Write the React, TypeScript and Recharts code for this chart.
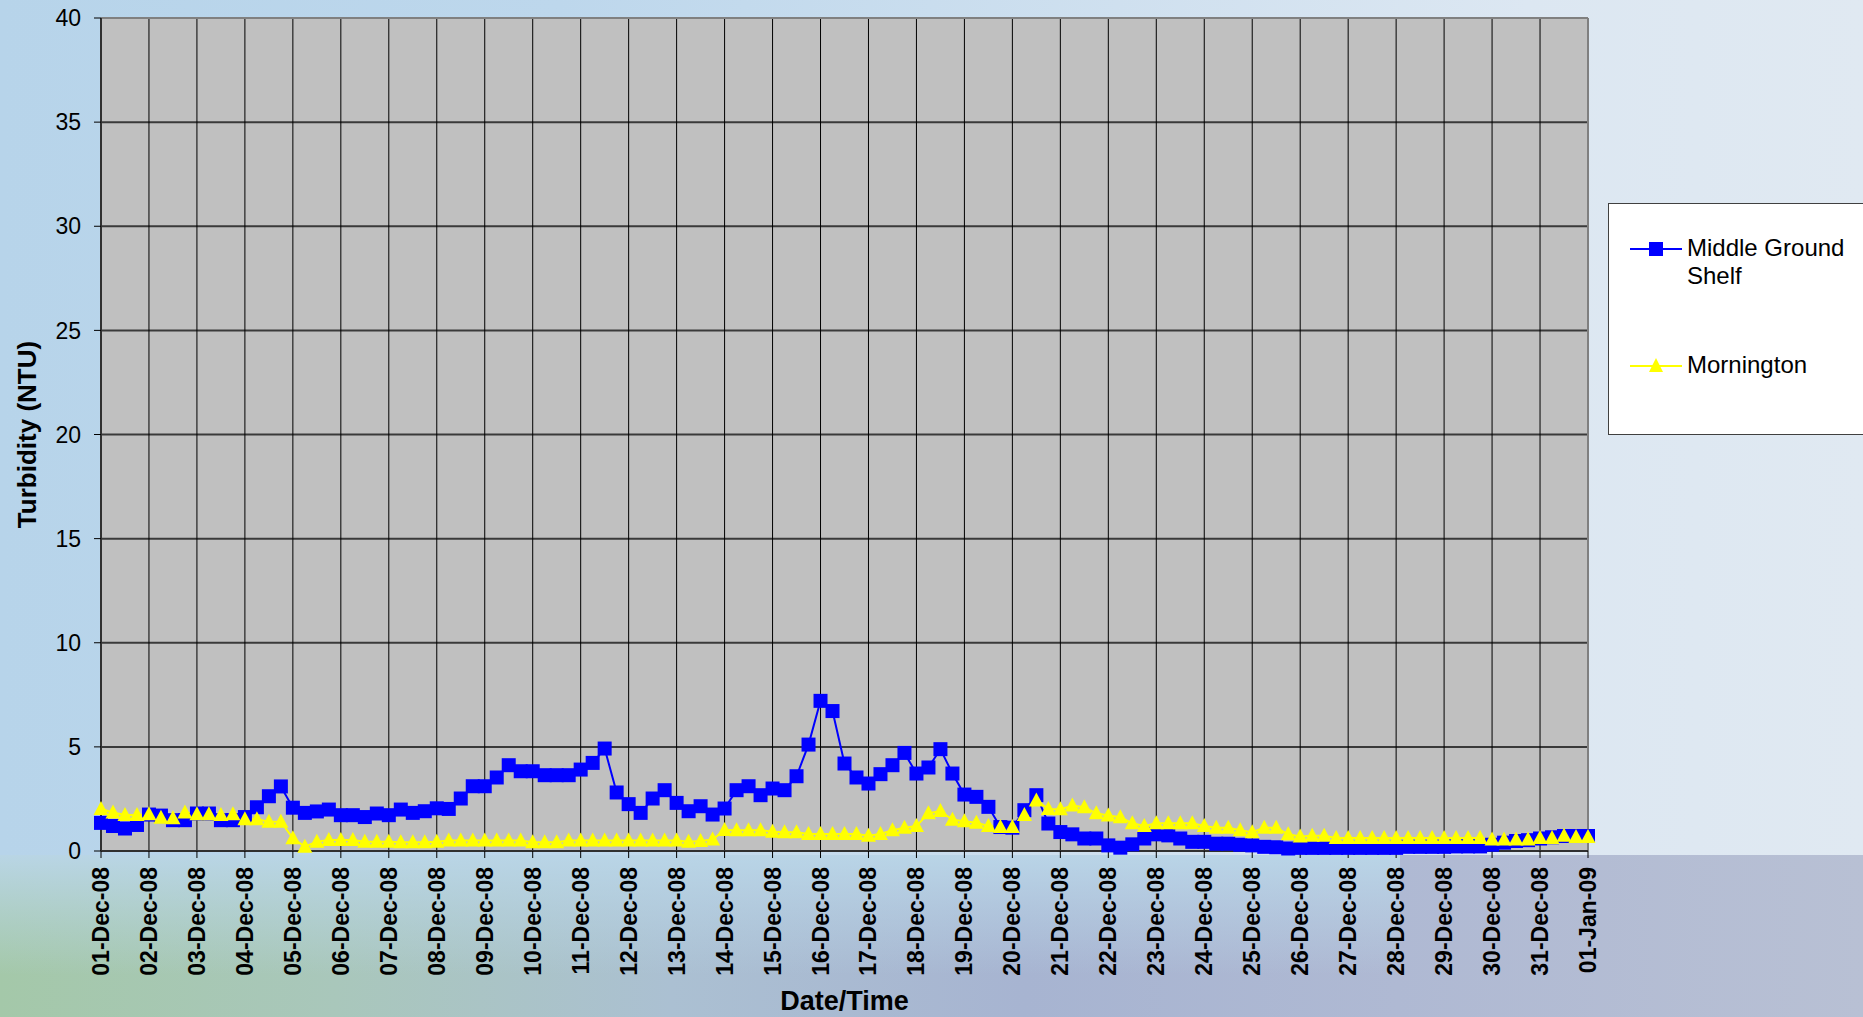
import React from 'react'
import { LineChart, Line, XAxis, YAxis, CartesianGrid, ReferenceLine } from 'recharts'

const FONT = 'Arial, "Liberation Sans", sans-serif'

// one label per day, readings every 6 hours (4 per day)
const dayLabels = [
  '01-Dec-08', '02-Dec-08', '03-Dec-08', '04-Dec-08', '05-Dec-08', '06-Dec-08', '07-Dec-08', '08-Dec-08',
  '09-Dec-08', '10-Dec-08', '11-Dec-08', '12-Dec-08', '13-Dec-08', '14-Dec-08', '15-Dec-08', '16-Dec-08',
  '17-Dec-08', '18-Dec-08', '19-Dec-08', '20-Dec-08', '21-Dec-08', '22-Dec-08', '23-Dec-08', '24-Dec-08',
  '25-Dec-08', '26-Dec-08', '27-Dec-08', '28-Dec-08', '29-Dec-08', '30-Dec-08', '31-Dec-08', '01-Jan-09',
]

const middleGroundShelf = [
  1.35, 1.2, 1.08, 1.25, 1.75, 1.7, 1.48, 1.48, 1.8, 1.8, 1.48, 1.48, 1.63, 2.1, 2.63, 3.1,
  2.08, 1.83, 1.9, 1.99, 1.72, 1.72, 1.63, 1.8, 1.72, 1.99, 1.83, 1.91, 2.05, 2.02, 2.52, 3.11,
  3.11, 3.53, 4.12, 3.83, 3.83, 3.64, 3.64, 3.64, 3.91, 4.23, 4.92, 2.81, 2.25, 1.83, 2.52, 2.92,
  2.31, 1.91, 2.15, 1.75, 2.04, 2.92, 3.11, 2.68, 3.0, 2.92, 3.59, 5.11, 7.21, 6.72, 4.2, 3.53,
  3.24, 3.69, 4.12, 4.71, 3.72, 4.01, 4.89, 3.72, 2.71, 2.6, 2.12, 1.15, 1.12, 1.96, 2.68, 1.32,
  0.91, 0.8, 0.6, 0.6, 0.27, 0.16, 0.32, 0.6, 0.8, 0.75, 0.6, 0.44, 0.44, 0.35, 0.35, 0.3,
  0.27, 0.2, 0.18, 0.12, 0.15, 0.15, 0.15, 0.15, 0.15, 0.15, 0.15, 0.15, 0.15, 0.2, 0.2, 0.2,
  0.2, 0.22, 0.22, 0.22, 0.3, 0.4, 0.48, 0.52, 0.6, 0.66, 0.72, 0.72, 0.72,
]

const mornington = [
  2.02, 1.85, 1.73, 1.73, 1.76, 1.6, 1.57, 1.85, 1.76, 1.76, 1.73, 1.76, 1.52, 1.52, 1.41, 1.41,
  0.61, 0.21, 0.45, 0.53, 0.53, 0.53, 0.45, 0.45, 0.45, 0.42, 0.42, 0.42, 0.45, 0.5, 0.5, 0.5,
  0.5, 0.5, 0.5, 0.5, 0.42, 0.42, 0.42, 0.5, 0.5, 0.5, 0.5, 0.5, 0.5, 0.5, 0.5, 0.5,
  0.5, 0.45, 0.48, 0.55, 1.01, 1.0, 1.0, 1.0, 0.93, 0.9, 0.9, 0.82, 0.82, 0.82, 0.82, 0.82,
  0.73, 0.82, 1.0, 1.12, 1.2, 1.81, 1.92, 1.5, 1.43, 1.36, 1.2, 1.15, 1.15, 1.73, 2.42, 2.02,
  2.0, 2.18, 2.1, 1.81, 1.7, 1.62, 1.33, 1.2, 1.33, 1.33, 1.33, 1.33, 1.2, 1.12, 1.12, 1.0,
  0.9, 1.12, 1.12, 0.8, 0.7, 0.73, 0.73, 0.62, 0.62, 0.62, 0.62, 0.62, 0.62, 0.62, 0.62, 0.62,
  0.62, 0.62, 0.62, 0.62, 0.55, 0.55, 0.55, 0.55, 0.62, 0.62, 0.73, 0.67, 0.67,
]

const yTicks = [0, 5, 10, 15, 20, 25, 30, 35, 40]
const xTicks = dayLabels.map((_, i) => i * 4)
const lastStep = (dayLabels.length - 1) * 4

const data = middleGroundShelf.map((v, i) => ({ step: i, mgs: v, morn: mornington[i] }))

const SquareDot = (props: any) => {
  const { cx, cy, index } = props
  if (cx == null || cy == null) return <g key={`s${index}`} />
  return <rect key={`s${index}`} x={cx - 7} y={cy - 7} width={14} height={14} fill="#0000ff" />
}

const TriangleDot = (props: any) => {
  const { cx, cy, index } = props
  if (cx == null || cy == null) return <g key={`t${index}`} />
  return (
    <polygon
      key={`t${index}`}
      points={`${cx},${cy - 8} ${cx + 7.5},${cy + 6} ${cx - 7.5},${cy + 6}`}
      fill="#ffff00"
    />
  )
}

const DateTick = ({ x, y, payload }: any) => (
  <text
    x={x}
    y={y}
    transform={`rotate(-90 ${x} ${y})`}
    textAnchor="end"
    dominantBaseline="central"
    fontFamily={FONT}
    fontSize={23}
    fontWeight={700}
    fill="#000"
  >
    {dayLabels[Math.round(payload.value / 4)]}
  </text>
)

const YTitle = ({ viewBox }: any) => {
  const cy = viewBox.y + viewBox.height / 2
  return (
    <text
      x={27}
      y={cy}
      transform={`rotate(-90 27 ${cy})`}
      textAnchor="middle"
      dominantBaseline="central"
      fontFamily={FONT}
      fontSize={26}
      fontWeight={700}
      fill="#000"
    >
      Turbidity (NTU)
    </text>
  )
}

const XTitle = ({ viewBox }: any) => (
  <text
    x={viewBox.x + viewBox.width / 2}
    y={1001}
    textAnchor="middle"
    dominantBaseline="central"
    fontFamily={FONT}
    fontSize={27}
    fontWeight={700}
    fill="#000"
  >
    Date/Time
  </text>
)

function LegendBox() {
  const text = { position: 'absolute' as const, left: 78, fontFamily: FONT, fontSize: 24, color: '#000', lineHeight: '28px' }
  return (
    <div
      style={{
        position: 'absolute',
        left: 1608,
        top: 203,
        width: 280,
        height: 232,
        background: '#fff',
        border: '1px solid #404040',
        boxSizing: 'border-box',
      }}
    >
      <svg style={{ position: 'absolute', left: 21, top: 33 }} width={52} height={24}>
        <line x1={0} y1={12} x2={52} y2={12} stroke="#0000ff" strokeWidth={2} />
        <rect x={19} y={5} width={14} height={14} fill="#0000ff" />
      </svg>
      <div style={{ ...text, top: 30 }}>
        Middle Ground
        <br />
        Shelf
      </div>
      <svg style={{ position: 'absolute', left: 21, top: 150 }} width={52} height={24}>
        <line x1={0} y1={12} x2={52} y2={12} stroke="#ffff00" strokeWidth={2} />
        <polygon points="26,4 33,18 19,18" fill="#ffff00" />
      </svg>
      <div style={{ ...text, top: 147 }}>Mornington</div>
    </div>
  )
}

export default function App() {
  return (
    <div
      style={{
        position: 'fixed',
        left: 0,
        top: 0,
        width: 1863,
        height: 1017,
        overflow: 'hidden',
        background: 'linear-gradient(90deg, #b7d4ea 0%, #bdd7ec 30%, #cfe0ef 60%, #dce7f2 82%, #e0e9f2 100%)',
      }}
    >
      {/* landscape strip behind the axis labels */}
      <div
        style={{
          position: 'absolute',
          left: 0,
          top: 855,
          width: 1863,
          height: 162,
          background:
            'linear-gradient(90deg, #a4c8a9 0%, #a9c7bb 18%, #abc0d2 36%, #a7b4d1 55%, #afb9d3 75%, #b8c0d4 100%)',
        }}
      />
      <div
        style={{
          position: 'absolute',
          left: 0,
          top: 855,
          width: 1400,
          height: 120,
          background: 'linear-gradient(180deg, rgba(186,214,232,0.95) 0%, rgba(186,214,232,0.5) 45%, rgba(186,214,232,0) 100%)',
        }}
      />
      <div style={{ position: 'absolute', left: 0, top: 0 }}>
        <LineChart
          width={1863}
          height={1017}
          data={data}
          margin={{ top: 18, right: 275, left: 0, bottom: 0 }}
        >
          <CartesianGrid
            horizontal
            vertical={false}
            stroke="#3a3a3a"
            strokeWidth={2}
            fill="#c0c0c0"
            fillOpacity={1}
          />
          <CartesianGrid horizontal={false} vertical stroke="#000" strokeWidth={1} />
          <ReferenceLine y={40} stroke="#808080" strokeWidth={2} />
          <ReferenceLine x={lastStep} stroke="#808080" strokeWidth={2} />
          <XAxis
            dataKey="step"
            type="number"
            domain={[0, lastStep]}
            ticks={xTicks}
            interval={0}
            height={166}
            tickSize={7}
            tickMargin={9}
            tick={<DateTick />}
            axisLine={{ stroke: '#303030', strokeWidth: 2 }}
            tickLine={{ stroke: '#000' }}
            label={<XTitle />}
          />
          <YAxis
            domain={[0, 40]}
            ticks={yTicks}
            interval={0}
            width={101}
            tickSize={7}
            tickMargin={13}
            tick={{ fontSize: 23, fill: '#000', fontFamily: FONT }}
            axisLine={{ stroke: '#303030', strokeWidth: 2 }}
            tickLine={{ stroke: '#000' }}
            label={<YTitle />}
          />
          <Line
            type="linear"
            dataKey="mgs"
            name="Middle Ground Shelf"
            stroke="#0000ff"
            strokeWidth={2}
            dot={SquareDot}
            activeDot={false}
            isAnimationActive={false}
          />
          <Line
            type="linear"
            dataKey="morn"
            name="Mornington"
            stroke="#ffff00"
            strokeWidth={2}
            dot={TriangleDot}
            activeDot={false}
            isAnimationActive={false}
          />
        </LineChart>
      </div>
      <LegendBox />
    </div>
  )
}
